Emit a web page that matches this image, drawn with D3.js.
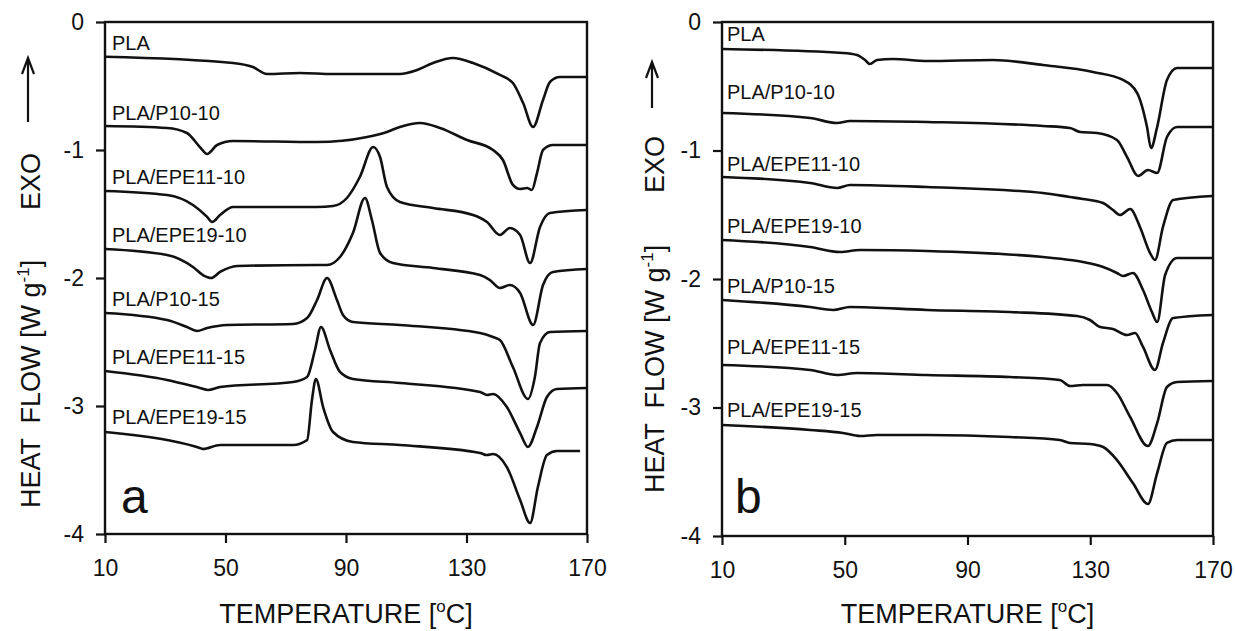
<!DOCTYPE html>
<html>
<head>
<meta charset="utf-8">
<script src="https://cdn.jsdelivr.net/npm/d3@7"></script>
<style>
  html, body { margin: 0; padding: 0; background: #fff; }
  svg { display: block; font-family: Arial, "Liberation Sans", Helvetica, sans-serif; }
  text { fill: #111; }
</style>
</head>
<body>
<svg id="chart" width="1235" height="631"></svg>
<script>
// DSC heating scans, heat flow [W/g] vs temperature [°C]; curves are offset vertically.
const sampleNames = ["PLA", "PLA/P10-10", "PLA/EPE11-10", "PLA/EPE19-10", "PLA/P10-15", "PLA/EPE11-15", "PLA/EPE19-15"];
const xTicks = [10, 50, 90, 130, 170];
const yTicks = [0, -1, -2, -3, -4];

// Panel a: [temperature, heat flow]
const a_PLA = [[10,-0.271],[52.5,-0.320],[59.1,-0.352],[63.8,-0.406],[74.7,-0.398],[85.7,-0.406],[107.9,-0.406],[113.6,-0.375],[118.9,-0.320],[125.5,-0.281],[132.2,-0.320],[141.1,-0.414],[145.4,-0.477],[148.8,-0.633],[152.1,-0.820],[155.4,-0.609],[157.7,-0.469],[161.0,-0.430],[170,-0.430]];
const a_P10_10 = [[10,-0.8125],[30.6,-0.828],[37.2,-0.867],[41.5,-0.977],[43.9,-1.031],[47.2,-0.961],[52.5,-0.930],[80.4,-0.938],[97.0,-0.898],[103.6,-0.859],[107.9,-0.820],[114.6,-0.789],[121.2,-0.828],[130.2,-0.922],[138.8,-1.0],[142.1,-1.078],[145.4,-1.273],[147.8,-1.305],[150.1,-1.297],[151.7,-1.3125],[153.4,-1.18],[155.4,-1.0],[158.7,-0.961],[170,-0.961]];
const a_EPE11_10 = [[10,-1.320],[30.6,-1.352],[39.2,-1.430],[43.9,-1.523],[45.5,-1.5625],[48.2,-1.508],[52.5,-1.445],[80.4,-1.445],[85.7,-1.4375],[90.3,-1.375],[94.6,-1.211],[99.0,-0.977],[101.3,-1.055],[103.6,-1.289],[107.9,-1.406],[118.9,-1.453],[132.2,-1.508],[136.8,-1.5625],[141.1,-1.664],[144.4,-1.609],[147.8,-1.664],[151.1,-1.883],[154.4,-1.602],[157.7,-1.492],[170,-1.469]];
const a_EPE19_10 = [[10,-1.773],[30.6,-1.820],[39.2,-1.914],[42.5,-1.977],[45.2,-2.0],[48.2,-1.953],[53.8,-1.906],[80.4,-1.898],[83.7,-1.898],[88.0,-1.836],[92.3,-1.648],[96.3,-1.375],[98.6,-1.547],[101.3,-1.805],[105.6,-1.883],[118.9,-1.922],[134.5,-1.977],[137.8,-2.016],[141.1,-2.078],[144.4,-2.055],[147.8,-2.117],[152.1,-2.367],[155.4,-2.055],[158.7,-1.953],[170,-1.930]];
const a_P10_15 = [[10,-2.273],[30.6,-2.328],[37.2,-2.383],[40.5,-2.414],[43.9,-2.391],[50.5,-2.367],[72.4,-2.359],[77.1,-2.3125],[80.4,-2.172],[83.7,-2.0],[87.0,-2.172],[89.0,-2.289],[92.3,-2.344],[107.9,-2.367],[134.5,-2.430],[138.8,-2.461],[141.1,-2.484],[145.4,-2.695],[150.4,-2.945],[152.7,-2.773],[154.4,-2.508],[157.7,-2.422],[170,-2.414]];
const a_EPE11_15 = [[10,-2.727],[30.6,-2.797],[41.5,-2.859],[44.2,-2.875],[48.2,-2.852],[72.4,-2.8125],[77.1,-2.773],[79.7,-2.5625],[81.7,-2.383],[84.7,-2.5625],[88.0,-2.734],[92.3,-2.789],[107.9,-2.820],[134.5,-2.891],[136.8,-2.914],[138.8,-2.906],[143.4,-3.008],[147.8,-3.211],[150.4,-3.320],[153.4,-3.164],[156.7,-2.930],[160.0,-2.867],[170,-2.859]];
const a_EPE19_15 = [[10,-3.203],[30.6,-3.266],[41.5,-3.328],[42.5,-3.336],[48.2,-3.305],[72.4,-3.305],[77.1,-3.266],[78.7,-2.953],[80.0,-2.789],[82.4,-3.008],[85.7,-3.203],[92.3,-3.281],[107.9,-3.305],[134.5,-3.367],[136.8,-3.383],[138.8,-3.375],[143.4,-3.477],[147.8,-3.734],[151.1,-3.914],[153.7,-3.633],[156.7,-3.383],[160.0,-3.352],[167.7,-3.352]];

// Panel b: [temperature, heat flow]
const b_PLA = [[10,-0.210],[49.4,-0.241],[54.0,-0.257],[56.6,-0.296],[58.2,-0.327],[60.5,-0.296],[65.7,-0.288],[76.8,-0.304],[98.3,-0.296],[114.6,-0.335],[130.9,-0.389],[140.7,-0.451],[145.3,-0.553],[148.5,-0.817],[149.8,-0.981],[151.8,-0.817],[155.0,-0.451],[158.3,-0.358],[169.7,-0.358]];
const b_P10_10 = [[10,-0.708],[38.7,-0.747],[47.5,-0.786],[51.7,-0.770],[76.8,-0.778],[114.6,-0.809],[123.4,-0.825],[126.7,-0.856],[132.2,-0.864],[138.7,-0.918],[142.0,-1.051],[145.6,-1.198],[148.8,-1.152],[151.8,-1.175],[155.0,-0.895],[158.3,-0.817],[169.7,-0.817]];
const b_EPE11_10 = [[10,-1.206],[38.7,-1.253],[47.5,-1.292],[51.7,-1.268],[76.8,-1.284],[114.6,-1.331],[123.4,-1.362],[127.6,-1.377],[134.2,-1.409],[137.4,-1.463],[139.7,-1.502],[143.0,-1.455],[146.2,-1.595],[149.5,-1.798],[151.1,-1.852],[153.7,-1.595],[157.0,-1.385],[169.7,-1.354]];
const b_EPE19_10 = [[10,-1.696],[38.7,-1.751],[48.5,-1.790],[55.0,-1.774],[76.8,-1.782],[114.6,-1.829],[123.4,-1.852],[127.6,-1.868],[134.2,-1.907],[138.7,-1.953],[140.7,-1.977],[143.9,-1.953],[147.2,-2.086],[150.1,-2.257],[151.8,-2.335],[154.4,-1.969],[158.3,-1.837],[169.7,-1.837]];
const b_P10_15 = [[10,-2.163],[38.7,-2.218],[46.2,-2.241],[51.7,-2.218],[76.8,-2.241],[103.8,-2.257],[125.7,-2.288],[129.9,-2.319],[133.2,-2.374],[137.4,-2.389],[142.0,-2.436],[144.6,-2.420],[147.2,-2.529],[151.1,-2.708],[153.7,-2.498],[157.0,-2.304],[169.7,-2.280]];
const b_EPE11_15 = [[10,-2.669],[38.7,-2.708],[47.5,-2.747],[54.0,-2.732],[76.8,-2.747],[103.8,-2.763],[120.1,-2.786],[123.4,-2.833],[127.6,-2.825],[135.5,-2.825],[138.7,-2.887],[143.0,-3.074],[148.8,-3.300],[151.8,-3.121],[155.0,-2.840],[158.3,-2.802],[169.7,-2.794]];
const b_EPE19_15 = [[10,-3.136],[38.7,-3.175],[49.4,-3.198],[55.0,-3.222],[60.5,-3.214],[76.8,-3.214],[103.8,-3.230],[120.1,-3.253],[123.4,-3.276],[129.9,-3.284],[134.2,-3.307],[138.7,-3.409],[143.9,-3.588],[148.8,-3.751],[151.8,-3.510],[155.0,-3.276],[158.3,-3.253],[169.7,-3.253]];

const curvesA = [a_PLA, a_P10_10, a_EPE11_10, a_EPE19_10, a_P10_15, a_EPE11_15, a_EPE19_15];
const curvesB = [b_PLA, b_P10_10, b_EPE11_10, b_EPE19_10, b_P10_15, b_EPE11_15, b_EPE19_15];

const svg = d3.select("#chart");

function drawPanel(cfg) {
  const x = d3.scaleLinear().domain([10, 170]).range([cfg.left, cfg.right]);
  const y = d3.scaleLinear().domain([-4, 0]).range([cfg.bottom, cfg.top]);
  const g = svg.append("g");

  // frame
  g.append("rect")
    .attr("x", cfg.left).attr("y", cfg.top)
    .attr("width", cfg.right - cfg.left).attr("height", cfg.bottom - cfg.top)
    .attr("fill", "none").attr("stroke", "#111").attr("stroke-width", 2.4);

  // bottom axis
  const xAxis = g.append("g")
    .attr("transform", `translate(0,${cfg.bottom})`)
    .call(d3.axisBottom(x).tickValues(xTicks).tickSize(9).tickPadding(17).tickFormat(d3.format("d")));
  xAxis.select(".domain").remove();
  xAxis.selectAll("line").attr("stroke", "#111").attr("stroke-width", 2.2);
  xAxis.selectAll("text").attr("font-size", 23).attr("fill", "#111")
    .attr("font-family", "Arial, 'Liberation Sans', sans-serif");

  // left axis
  const yAxis = g.append("g")
    .attr("transform", `translate(${cfg.left},0)`)
    .call(d3.axisLeft(y).tickValues(yTicks).tickSize(9).tickPadding(12).tickFormat(d => d3.format("d")(d).replace("−", "-")));
  yAxis.select(".domain").remove();
  yAxis.selectAll("line").attr("stroke", "#111").attr("stroke-width", 2.2);
  yAxis.selectAll("text").attr("font-size", 23).attr("fill", "#111")
    .attr("font-family", "Arial, 'Liberation Sans', sans-serif");

  // curves
  const line = d3.line().x(d => x(d[0])).y(d => y(d[1])).curve(d3.curveMonotoneX);
  g.selectAll("path.curve").data(cfg.curves).join("path")
    .attr("class", "curve")
    .attr("d", line)
    .attr("fill", "none").attr("stroke", "#111").attr("stroke-width", 2.6)
    .attr("stroke-linejoin", "round");

  // sample labels just above each curve's start
  g.selectAll("text.lbl").data(cfg.curves).join("text")
    .attr("class", "lbl")
    .attr("x", x(10) + cfg.labelDx)
    .attr("y", (d, i) => y(d[0][1]) - cfg.labelDy[i])
    .attr("font-size", 20)
    .text((d, i) => sampleNames[i]);

  // panel letter
  g.append("text")
    .attr("x", cfg.letterX).attr("y", 513)
    .attr("font-size", 48)
    .text(cfg.letter);

  // x title
  const xt = g.append("text")
    .attr("x", (cfg.left + cfg.right) / 2).attr("y", 623)
    .attr("text-anchor", "middle").attr("font-size", 27);
  xt.append("tspan").text("TEMPERATURE [");
  xt.append("tspan").attr("font-size", 17).attr("dy", -11).text("o");
  xt.append("tspan").attr("dy", 11).text("C]");

  // y title (reads bottom to top)
  const yt = g.append("text")
    .attr("transform", `translate(${cfg.titleX},${cfg.titleStart}) rotate(-90)`)
    .attr("font-size", 27)
    .style("white-space", "pre");
  yt.append("tspan").text("HEAT  FLOW [W g");
  yt.append("tspan").attr("font-size", 17).attr("dy", -11).text("-1");
  yt.append("tspan").attr("dy", 11).text("]");

  g.append("text")
    .attr("transform", `translate(${cfg.titleX},${cfg.exoStart}) rotate(-90)`)
    .attr("font-size", 27)
    .text("EXO");

  // exotherm direction arrow
  const ax = cfg.arrowX;
  g.append("path")
    .attr("d", `M${ax},${cfg.arrowBottom} L${ax},${cfg.arrowTop} M${ax - 6},${cfg.arrowTop + 16} L${ax},${cfg.arrowTop} L${ax + 6},${cfg.arrowTop + 16}`)
    .attr("fill", "none").attr("stroke", "#111").attr("stroke-width", 2.2);
}

drawPanel({
  left: 105, right: 587, top: 22, bottom: 534,
  curves: curvesA, letter: "a", letterX: 121,
  labelDx: 7, labelDy: [7, 6, 7, 7, 7, 7, 8],
  titleX: 40, titleStart: 508, exoStart: 210,
  arrowX: 28, arrowTop: 58, arrowBottom: 122
});

drawPanel({
  left: 722, right: 1213, top: 22, bottom: 536,
  curves: curvesB, letter: "b", letterX: 735,
  labelDx: 5, labelDy: [8, 14, 6, 7, 7, 11, 8],
  titleX: 664, titleStart: 493, exoStart: 193,
  arrowX: 652, arrowTop: 62, arrowBottom: 108
});
</script>
</body>
</html>
